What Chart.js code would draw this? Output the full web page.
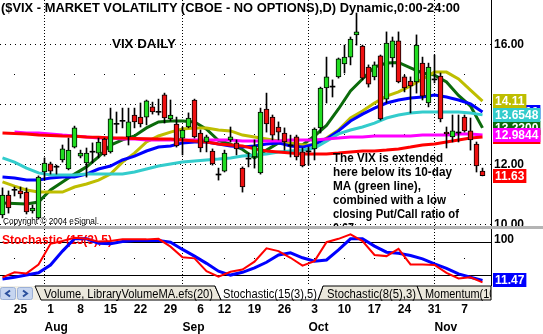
<!DOCTYPE html>
<html>
<head>
<meta charset="utf-8">
<title>$VIX daily</title>
<script src="https://cdn.jsdelivr.net/npm/chart.js@4.4.1/dist/chart.umd.min.js"></script>
<style>
  html, body { margin: 0; padding: 0; background: #fff; }
  body { position: relative; width: 543px; height: 334px; overflow: hidden; }
  canvas, svg, .sep { position: absolute; left: 0; }
  #price { top: 0; }
  #stoch { top: 229px; }
  .sep { top: 226px; width: 543px; height: 3px; background: #b4b4b4; }
  svg text { font-family: "Liberation Sans", Arial, sans-serif; }
</style>
</head>
<body>
<canvas id="price" width="543" height="227"></canvas>
<canvas id="stoch" width="543" height="105"></canvas>

<svg width="543" height="334" style="top:0">
  <defs><clipPath id="mainClip"><rect x="0" y="0" width="491" height="228"/></clipPath></defs>
  <text x="1" y="12" font-size="12" font-weight="bold" textLength="459" lengthAdjust="spacingAndGlyphs">($VIX - MARKET VOLATILITY (CBOE - NO OPTIONS),D) Dynamic,0:00-24:00</text>
  <text x="112" y="48" font-size="12" font-weight="bold" textLength="64" lengthAdjust="spacingAndGlyphs">VIX DAILY</text>
  <g clip-path="url(#mainClip)" font-size="12" font-weight="bold">
    <text x="333" y="162" textLength="110" lengthAdjust="spacingAndGlyphs">The VIX is extended</text>
    <text x="333" y="176" textLength="119" lengthAdjust="spacingAndGlyphs">here below its 10-day</text>
    <text x="333" y="190" textLength="88" lengthAdjust="spacingAndGlyphs">MA (green line),</text>
    <text x="333" y="204" textLength="113" lengthAdjust="spacingAndGlyphs">combined with a low</text>
    <text x="333" y="218" textLength="126" lengthAdjust="spacingAndGlyphs">closing Put/Call ratio of</text>
    <text x="333" y="232" textLength="24" lengthAdjust="spacingAndGlyphs">0.67.</text>
  </g>
  <text x="3" y="224" font-size="8.5" textLength="96" lengthAdjust="spacingAndGlyphs">Copyright © 2004 eSignal.</text>
</svg>
<div class="sep"></div>

<svg width="543" height="18" style="top:284px">
  <rect x="0" y="2" width="492" height="14" fill="#f1efe6"/>
  <rect x="0.5" y="3.5" width="15" height="12" rx="2" fill="#c6d5f0" stroke="#9cb0d6"/>
  <path d="M10 6.5 L6 9.5 L10 12.5" fill="none" stroke="#2a4f9c" stroke-width="2"/>
  <rect x="17.5" y="3.5" width="15" height="12" rx="2" fill="#c6d5f0" stroke="#9cb0d6"/>
  <path d="M23 6.5 L27 9.5 L23 12.5" fill="none" stroke="#2a4f9c" stroke-width="2"/>
  <path d="M35 2 L215 2 L221 16 L41 16 Z" fill="#ebe8dc" stroke="#000" stroke-width="1"/>
  <path d="M417 2 L491 2 L491 16 L422 16 Z" fill="#ebe8dc" stroke="#000" stroke-width="1"/>
  <path d="M318 16 L323 2 L417 2 L422 16 Z" fill="#ebe8dc" stroke="#000" stroke-width="1"/>
  <path d="M215 2 L221 16 L318 16 L323 2 Z" fill="#fff"/>
  <path d="M215 2 L221 16 L318 16 L323 2" fill="none" stroke="#000" stroke-width="1"/>
  <text x="44" y="13.5" font-size="12" textLength="169" lengthAdjust="spacingAndGlyphs">Volume, LibraryVolumeMA.efs(20)</text>
  <text x="223" y="13.5" font-size="12" textLength="94" lengthAdjust="spacingAndGlyphs">Stochastic(15(3),5)</text>
  <text x="327" y="13.5" font-size="12" textLength="89" lengthAdjust="spacingAndGlyphs">Stochastic(8(5),3)</text>
  <svg x="0" y="0" width="491" height="18"><text x="425" y="13.5" font-size="12" textLength="74" lengthAdjust="spacingAndGlyphs">Momentum(10)</text></svg>
</svg>

<script>
// ---- sessions (2004) ----
const dates = ['07/21','07/22','07/23','07/26','07/27','07/28','07/29','07/30',
  '08/02','08/03','08/04','08/05','08/06','08/09','08/10','08/11','08/12','08/13','08/16','08/17','08/18','08/19','08/20','08/23','08/24','08/25','08/26','08/27','08/30','08/31',
  '09/01','09/02','09/03','09/07','09/08','09/09','09/10','09/13','09/14','09/15','09/16','09/17','09/20','09/21','09/22','09/23','09/24','09/27','09/28','09/29','09/30',
  '10/01','10/04','10/05','10/06','10/07','10/08','10/11','10/12','10/13','10/14','10/15','10/18','10/19','10/20','10/21','10/22','10/25','10/26','10/27','10/28','10/29',
  '11/01','11/02','11/03','11/04','11/05','11/08','11/09','11/10','11/11'];

// ---- daily OHLC ----
const open = [10.32,10.98,11.14,11.12,11.08,10.45,10.22,11.75,12.02,11.91,
  12.15,11.85,12.58,12.28,12.05,12.41,12.38,12.85,12.42,13.34,
  13.44,12.92,13.65,13.58,13.58,13.92,13.74,14.32,13.52,13.35,
  12.88,13.25,14.15,13.05,12.75,12.45,11.65,11.78,12.82,12.72,
  11.88,12.18,12.25,11.72,13.85,13.58,13.25,13.05,12.62,12.92,
  12.42,12.42,12.52,13.22,14.55,14.58,14.92,15.35,15.58,16.32,
  15.95,15.25,14.92,15.62,14.18,15.55,16.12,14.92,14.78,14.75,
  15.38,14.05,14.82,14.95,13.08,12.92,13.05,13.58,13.12,12.68,
  11.78];
const high = [11.22,11.12,11.25,11.25,11.22,10.65,11.62,12.22,12.08,11.98,
  12.65,12.88,13.28,12.48,12.55,12.72,12.88,12.88,13.88,13.75,
  13.88,13.88,13.88,14.05,14.15,14.08,14.18,14.38,14.15,13.58,
  13.25,13.72,14.18,13.15,12.98,12.52,11.88,12.48,13.25,12.82,
  11.92,12.38,12.82,13.88,14.38,13.65,13.42,13.22,12.98,12.98,
  12.55,12.58,13.22,14.58,15.58,14.82,15.55,15.98,16.25,17.05,
  15.98,15.32,15.42,15.65,16.42,16.25,16.42,14.98,14.92,16.32,
  15.58,15.38,15.65,15.05,13.25,13.65,13.65,13.65,13.55,12.75,
  11.88];
const low = [10.22,10.38,10.95,10.88,10.35,10.38,10.18,11.48,11.68,11.68,
  12.08,11.82,12.55,12.22,11.58,12.05,12.22,12.28,12.38,13.05,
  13.22,12.65,13.22,13.25,13.32,13.68,13.65,13.38,13.45,12.58,
  12.32,13.22,12.88,12.42,12.42,11.98,11.48,11.75,12.75,12.32,
  11.08,11.92,11.88,11.68,13.08,12.82,12.82,12.48,12.25,12.15,
  11.92,11.98,12.15,13.05,14.05,14.25,14.88,15.05,15.32,15.98,
  14.82,14.58,14.82,13.48,14.05,15.25,14.72,14.42,13.72,14.38,
  14.15,13.92,14.72,13.42,12.55,12.75,12.75,13.08,12.48,11.75,
  11.62];
const close = [10.98,10.55,11.14,11.02,10.42,10.55,11.58,12.05,11.78,11.91,
  12.52,12.48,13.22,12.38,12.38,12.41,12.75,12.32,13.52,13.34,
  13.44,13.42,13.42,13.35,14.12,13.75,13.74,13.55,13.65,12.62,
  13.15,13.55,12.92,12.55,12.92,12.02,11.65,12.38,12.92,12.52,
  11.25,12.18,12.62,13.75,13.35,12.98,13.08,12.75,12.62,12.25,
  11.95,12.42,13.18,14.55,14.92,14.58,15.52,15.58,16.18,16.42,
  14.88,14.68,15.32,13.52,16.05,16.12,14.75,14.55,14.62,15.98,
  14.28,15.25,14.82,13.52,13.02,13.12,13.05,13.12,12.82,11.95,
  11.63];

// ---- moving averages, read every 2nd session starting 07/21 ----
const maGreen = [10.72,10.70,10.68,10.75,11.15,11.42,11.68,11.92,12.25,12.65,
  12.82,12.95,13.22,13.42,13.45,13.45,13.42,13.18,12.80,12.68,
  12.50,12.22,12.48,12.72,12.70,12.65,12.95,13.30,13.85,14.45,
  14.85,15.25,15.38,15.40,15.22,15.05,14.98,14.75,14.30,13.95,
  13.22];
const maYellow = [11.42,11.28,11.15,11.08,11.08,11.08,11.25,11.35,11.48,11.68,
  12.08,12.38,12.75,12.95,13.08,13.18,13.22,13.22,13.15,13.12,
  12.98,12.92,12.85,12.78,12.72,12.65,12.65,12.88,13.15,13.55,
  13.78,14.05,14.28,14.42,14.62,14.85,15.08,15.08,14.85,14.48,
  14.11];
const maBlue = [11.58,11.55,11.48,11.48,11.55,11.58,11.58,11.68,11.85,11.95,
  12.15,12.28,12.45,12.58,12.62,12.72,12.75,12.75,12.68,12.62,
  12.58,12.62,12.68,12.72,12.62,12.58,12.68,12.85,13.12,13.45,
  13.68,13.88,14.05,14.15,14.22,14.25,14.32,14.25,14.15,14.02,
  13.75];
const maCyan = [12.22,12.08,11.88,11.72,11.65,11.65,11.65,11.68,11.68,11.68,
  11.68,11.75,11.85,11.95,12.02,12.08,12.12,12.15,12.18,12.22,
  12.28,12.32,12.35,12.42,12.45,12.48,12.55,12.78,13.02,13.15,
  13.25,13.38,13.55,13.65,13.72,13.75,13.75,13.75,13.75,13.72,
  13.6548];
const maMagenta = [null,13.08,13.05,13.05,13.02,12.98,12.95,12.92,12.88,12.88,
  12.85,12.85,12.82,12.82,12.82,12.82,12.82,12.82,12.82,12.82,
  12.78,12.78,12.78,12.78,12.82,12.82,12.82,12.85,12.88,12.92,
  12.92,12.95,12.95,12.95,12.95,12.98,12.98,12.98,13.02,13.02,
  12.9844];
const maRed = [13.05,13.03,13.02,12.98,12.97,12.95,12.94,12.92,12.91,12.88,
  12.88,12.87,12.86,12.85,12.85,12.82,12.78,12.75,12.68,12.65,
  12.62,12.52,12.45,12.42,12.38,12.35,12.35,12.35,12.38,12.42,
  12.45,12.45,12.48,12.52,12.58,12.65,12.68,12.75,12.82,12.88,
  12.92];

// ---- stochastic (15(3),5), every 2nd session ----
const stochK = [17,26,24,40,77,82,88,86,81,82,
  85,85,85,86,72,53,51,28,18,27,
  31,45,69,64,52,38,46,80,86,94,
  82,57,55,68,40,40,39,25,15,17,
  8];
const stochD = [14,17,21,25,39,64,86,86,78,77,
  81,83,83,83,80,67,55,42,28,21,
  26,34,44,57,61,52,46,48,66,86,
  86,73,62,60,56,50,41,33,23,17,
  11.47];

// ---- axis labels ----
const weekStarts = ['07/26','08/02','08/09','08/16','08/23','08/30','09/07','09/13','09/20','09/27','10/04','10/11','10/18','10/25','11/01','11/08'];
const weekLabels = ['25','1','8','15','22','29','6','12','19','26','3','10','17','24','31','7'];
const monthStarts = ['07/30','09/01','10/01','11/01'];
const monthLabels = ['Aug','Sep','Oct','Nov'];
const priceMajor = [10, 12, 14, 16];
const priceMinor = [11, 13, 15];
const stochLevels = [20, 80, 100];

const FONT = '"Liberation Sans", Arial, sans-serif';
const BOLD12 = { family: FONT, size: 12, weight: 'bold', lineHeight: 1 };
const UP = '#22dd22', DOWN = '#ee1111';
const X_MIN = -0.4167, X_MAX = 81.4167;

const idx = (d) => dates.indexOf(d);
const sampled = (arr) => arr.map((v, k) => ({ x: 2 * k, y: v }));
const isDoji = (i) => open[i] === close[i];
const last = (arr) => arr[arr.length - 1];
const noPad = (s) => { s.paddingTop = 0; s.paddingBottom = 0; s.paddingLeft = 0; s.paddingRight = 0; };

const maLine = (label, arr, color, width) => ({
  type: 'line', label, data: sampled(arr), borderColor: color, borderWidth: width,
  pointRadius: 0, tension: 0, spanGaps: true, order: 3
});

// dotted grid lines at the ticks of the listed scales
const dotGrid = {
  id: 'dotGrid',
  beforeDatasetsDraw(chart, args, opts) {
    const ctx = chart.ctx, a = chart.chartArea;
    ctx.save();
    ctx.fillStyle = '#000';
    opts.lines.forEach(l => {
      const s = chart.scales[l.scale];
      s.ticks.forEach(t => {
        const p = Math.floor(s.getPixelForValue(t.value));
        if (s.isHorizontal()) {
          for (let y = a.top + l.phase; y < a.bottom; y += l.step) ctx.fillRect(p, y, 1, 1);
        } else {
          for (let x = a.left + l.phase; x < a.right; x += l.step) ctx.fillRect(x, p, 1, 1);
        }
      });
    });
    ctx.restore();
  }
};

// coloured value boxes on the right scale
const tagPlugin = {
  id: 'tags',
  afterDraw(chart, args, opts) {
    const ctx = chart.ctx, ys = chart.scales.y, right = chart.chartArea.right;
    ctx.save();
    ctx.font = 'bold 12px ' + FONT;
    ctx.textBaseline = 'middle';
    opts.items.forEach(t => {
      const py = Math.round(ys.getPixelForValue(t.value));
      const w = ctx.measureText(t.text).width + 4;
      ctx.fillStyle = t.color;
      ctx.fillRect(right + 2, py - 7, w, 14);
      ctx.fillStyle = '#fff';
      ctx.fillText(t.text, right + 4, py + 1);
    });
    ctx.restore();
  }
};

const C_GREEN = '#0b6b0b', C_YELLOW = '#bebe00', C_BLUE = '#0000ff', C_CYAN = '#33cccc', C_MAG = '#ff00ff', C_RED = '#ff0000';

new Chart(document.getElementById('price'), {
  type: 'bar',
  data: {
    datasets: [
      { label: 'body', data: dates.map((d, i) => ({ x: i, y: [open[i], close[i]] })),
        barThickness: 5, grouped: false, minBarLength: 1, borderSkipped: false, order: 1,
        backgroundColor: c => isDoji(c.dataIndex) ? '#000' : (close[c.dataIndex] > open[c.dataIndex] ? UP : DOWN),
        borderColor: '#000', borderWidth: c => isDoji(c.dataIndex) ? 0 : 1 },
      { label: 'wick', data: dates.map((d, i) => ({ x: i, y: [low[i], high[i]] })),
        barThickness: 1, grouped: false, backgroundColor: '#000', borderWidth: 0, order: 2 },
      maLine('MA red', maRed, C_RED, 3),
      maLine('MA magenta', maMagenta, C_MAG, 3),
      maLine('MA cyan', maCyan, C_CYAN, 3),
      maLine('MA blue', maBlue, C_BLUE, 3),
      maLine('MA yellow', maYellow, C_YELLOW, 3),
      maLine('MA 10', maGreen, C_GREEN, 3)
    ]
  },
  options: {
    responsive: false, animation: false, events: [],
    layout: { padding: 0, autoPadding: false },
    plugins: {
      legend: { display: false }, tooltip: { enabled: false },
      dotGrid: { lines: [
        { scale: 'x', step: 3, phase: 0 },
        { scale: 'y', step: 5, phase: 0 },
        { scale: 'yMinor', step: 30, phase: 14 }
      ] },
      tags: { items: [
        { value: last(maGreen), text: last(maGreen).toFixed(4), color: C_GREEN },
        { value: last(maBlue), text: last(maBlue).toFixed(4), color: C_BLUE },
        { value: last(maRed), text: last(maRed).toFixed(4), color: C_RED },
        { value: last(maYellow), text: last(maYellow).toFixed(2), color: C_YELLOW },
        { value: last(maCyan), text: last(maCyan).toFixed(4), color: C_CYAN },
        { value: last(maMagenta), text: last(maMagenta).toFixed(4), color: C_MAG },
        { value: last(close), text: last(close).toFixed(2), color: C_RED }
      ] }
    },
    scales: {
      x: { type: 'linear', min: X_MIN, max: X_MAX, offset: false,
        afterBuildTicks: s => { s.ticks = monthStarts.map(d => ({ value: idx(d) })); },
        ticks: { display: false }, grid: { display: false, offset: false, drawTicks: false },
        border: { display: false }, afterFit: s => { s.height = 0; noPad(s); } },
      y: { position: 'right', min: 9.9167, max: 17.4833, offset: false,
        afterBuildTicks: s => { s.ticks = priceMajor.map(v => ({ value: v })); },
        ticks: { callback: v => v.toFixed(2), color: '#000', font: BOLD12, padding: 3 },
        grid: { display: false, drawTicks: false },
        border: { display: true, color: '#000', width: 1 },
        afterFit: s => { s.width = 52; noPad(s); } },
      yMinor: { position: 'right', min: 9.9167, max: 17.4833, offset: false,
        afterBuildTicks: s => { s.ticks = priceMinor.map(v => ({ value: v })); },
        ticks: { display: false }, grid: { display: false, drawTicks: false },
        border: { display: false }, afterFit: s => { s.width = 0; noPad(s); } }
    }
  },
  plugins: [dotGrid, tagPlugin]
});

const stochTitle = {
  id: 'stochTitle',
  beforeDatasetsDraw(chart) {
    const ctx = chart.ctx;
    ctx.save();
    ctx.font = 'bold 12px ' + FONT;
    ctx.fillStyle = '#ff0000';
    ctx.textBaseline = 'alphabetic';
    ctx.fillText('Stochastic (15(3),5)', 2, 14.5);
    ctx.restore();
  }
};

new Chart(document.getElementById('stoch'), {
  type: 'line',
  data: {
    datasets: [
      { label: '%K', data: sampled(stochK), borderColor: '#ff0000', borderWidth: 2, pointRadius: 0, tension: 0 },
      { label: '%D', data: sampled(stochD), borderColor: '#0000ff', borderWidth: 3, pointRadius: 0, tension: 0 }
    ]
  },
  options: {
    responsive: false, animation: false, events: [],
    layout: { padding: 0, autoPadding: false },
    plugins: {
      legend: { display: false }, tooltip: { enabled: false },
      dotGrid: { lines: [
        { scale: 'xm', step: 3, phase: 0 },
        { scale: 'y50', step: 30, phase: 14 }
      ] },
      tags: { items: [ { value: last(stochD), text: last(stochD).toFixed(2), color: '#0000ff' } ] }
    },
    scales: {
      x: { type: 'linear', position: 'bottom', weight: 0, min: X_MIN, max: X_MAX, offset: false,
        afterBuildTicks: s => { s.ticks = weekStarts.map(d => ({ value: idx(d) })); },
        ticks: { callback: (v, k) => weekLabels[k], color: '#000', font: BOLD12, padding: 19, maxRotation: 0, autoSkip: false },
        grid: { display: false, drawTicks: false }, border: { display: false },
        afterFit: s => { s.height = 31; noPad(s); } },
      xm: { type: 'linear', position: 'bottom', weight: 1, min: X_MIN, max: X_MAX, offset: false,
        afterBuildTicks: s => { s.ticks = monthStarts.map(d => ({ value: idx(d) })); },
        ticks: { callback: (v, k) => monthLabels[k], align: 'start', color: '#000', font: BOLD12, padding: 6, maxRotation: 0, autoSkip: false },
        grid: { display: false, drawTicks: false }, border: { display: false },
        afterFit: s => { s.height = 18; noPad(s); } },
      y: { position: 'right', min: 3.2, max: 103.6, offset: false,
        afterBuildTicks: s => { s.ticks = stochLevels.map(v => ({ value: v })); },
        ticks: { callback: v => v === 100 ? '100' : '', labelOffset: 9, color: '#000', font: BOLD12, padding: 3 },
        grid: { color: c => c.tick && c.tick.value === 100 ? 'rgba(0,0,0,0)' : '#000', drawTicks: false },
        border: { display: true, color: '#000', width: 1 },
        afterFit: s => { s.width = 52; noPad(s); } },
      y50: { position: 'right', min: 3.2, max: 103.6, offset: false,
        afterBuildTicks: s => { s.ticks = [{ value: 50 }]; },
        ticks: { display: false }, grid: { display: false, drawTicks: false },
        border: { display: false }, afterFit: s => { s.width = 0; noPad(s); } }
    }
  },
  plugins: [dotGrid, tagPlugin, stochTitle]
});
</script>
</body>
</html>
